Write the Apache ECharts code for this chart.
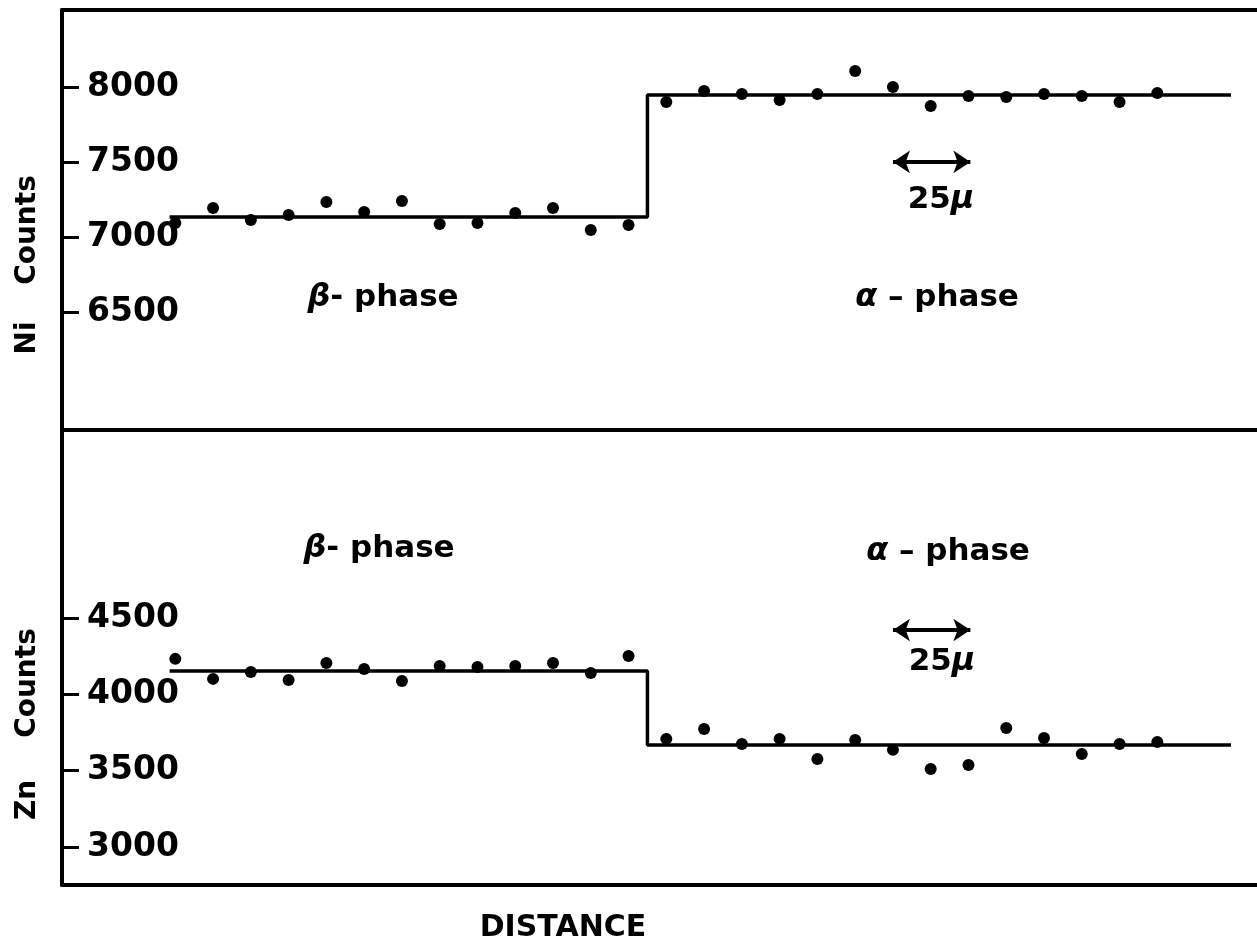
<!DOCTYPE html>
<html>
<head>
<meta charset="utf-8">
<script src="https://cdn.jsdelivr.net/npm/echarts@6/dist/echarts.min.js"></script>
<style>html,body{margin:0;padding:0;background:#fff}#c{width:1257px;height:945px}</style>
</head>
<body>
<div id="c"></div>
<script>
// ---- data (x = measurement index along the traverse) ----
const niBeta = [7093, 7193, 7113, 7147, 7233, 7167, 7240, 7087, 7093, 7160, 7193, 7047, 7080];
const niAlpha = [7900, 7973, 7953, 7913, 7953, 8107, 8000, 7873, 7940, 7933, 7953, 7940, 7900, 7960];
const znBeta = [4232, 4101, 4146, 4094, 4205, 4166, 4087, 4186, 4179, 4186, 4205, 4140, 4251];
const znAlpha = [3708, 3773, 3675, 3708, 3577, 3701, 3636, 3511, 3537, 3780, 3714, 3609, 3675, 3688];
const niLevels = [7133, 7947];
const znLevels = [4153, 3668];
const stepX = [-0.15, 12.5, 27.95];   // start, boundary, end of fitted step
const niTicks = [6500, 7000, 7500, 8000];
const znTicks = [3000, 3500, 4000, 4500];
const scaleBarX = [19.0, 21.05];       // 25 µm bar
const niBarY = 7500, znBarY = 4421;

const pts = (arr, off) => arr.map((v, i) => [i + off, v]);
const niPts = pts(niBeta, 0).concat(pts(niAlpha, niBeta.length));
const znPts = pts(znBeta, 0).concat(pts(znAlpha, znBeta.length));
const stepLine = (lv) => [[stepX[0], lv[0]], [stepX[1], lv[0]], [stepX[1], lv[1]], [stepX[2], lv[1]]];

const FONT = 'DejaVu Sans';
const chart = echarts.init(document.getElementById('c'), null, {renderer: 'canvas'});
const GW = 1195;
const XMAX = -3 + GW / 37.77;

function yAxisFor(gi, min, max, ticks) {
  return {
    gridIndex: gi, type: 'value', min: min, max: max, position: 'left',
    splitLine: {show: false},
    axisLine: {show: true, onZero: false, lineStyle: {color: '#000', width: 4}},
    axisTick: {show: true, inside: true, length: 17, customValues: ticks, lineStyle: {color: '#000', width: 3}},
    axisLabel: {show: true, inside: true, margin: 25, customValues: ticks, formatter: (v) => String(v),
      color: '#000', fontFamily: FONT, fontWeight: 'bold', fontSize: 33}
  };
}
const xAx = (gi, pos) => ({gridIndex: gi, type: 'value', min: -3, max: XMAX, position: pos,
  splitLine: {show: false}, axisTick: {show: false}, axisLabel: {show: false},
  axisLine: {show: true, onZero: false, lineStyle: {color: '#000', width: 4}}});

const dotStyle = {color: '#000', opacity: 1};
const lineStyle = {color: '#000', width: 3.5};
const txt = (s, x, y, size, extra) => ({type: 'text', x: x, y: y, rotation: extra || 0,
  style: {text: s, font: 'bold ' + size + 'px "DejaVu Sans"', fill: '#000', align: 'center', verticalAlign: 'middle',
    rich: {g: {fontFamily: FONT, fontWeight: 'bold', fontStyle: 'italic', fontSize: size + 1}}}});

chart.setOption({
  animation: false,
  backgroundColor: '#fff',
  grid: [
    {left: 62, top: 10, width: GW, height: 420},
    {left: 62, top: 430, width: GW, height: 455}
  ],
  xAxis: [xAx(0, 'top'), xAx(0, 'bottom'), xAx(1, 'bottom')],
  yAxis: [yAxisFor(0, 5713, 8513, niTicks), yAxisFor(1, 2751, 5731, znTicks)],
  series: [
    {type: 'line', xAxisIndex: 0, yAxisIndex: 0, data: stepLine(niLevels), symbol: 'none', lineStyle: lineStyle, z: 2},
    {type: 'line', xAxisIndex: 2, yAxisIndex: 1, data: stepLine(znLevels), symbol: 'none', lineStyle: lineStyle, z: 2},
    {type: 'scatter', xAxisIndex: 0, yAxisIndex: 0, data: niPts, symbolSize: 12, itemStyle: dotStyle, z: 3},
    {type: 'scatter', xAxisIndex: 2, yAxisIndex: 1, data: znPts, symbolSize: 12, itemStyle: dotStyle, z: 3},
    {type: 'lines', coordinateSystem: 'cartesian2d', xAxisIndex: 0, yAxisIndex: 0,
      symbol: ['arrow', 'arrow'], symbolSize: 17,
      lineStyle: {color: '#000', width: 4, opacity: 1},
      data: [{coords: [[scaleBarX[0], niBarY], [scaleBarX[1], niBarY]]}]},
    {type: 'lines', coordinateSystem: 'cartesian2d', xAxisIndex: 2, yAxisIndex: 1,
      symbol: ['arrow', 'arrow'], symbolSize: 17,
      lineStyle: {color: '#000', width: 4, opacity: 1},
      data: [{coords: [[scaleBarX[0], znBarY], [scaleBarX[1], znBarY]]}]}
  ],
  graphic: [
    txt('Counts', 28, 230, 28, Math.PI / 2),
    txt('Ni', 28, 338, 28, Math.PI / 2),
    txt('Counts', 28, 683, 28, Math.PI / 2),
    txt('Zn', 28, 800, 28, Math.PI / 2),
    txt('{g|β}- phase', 383, 298, 31),
    txt('{g|α} – phase', 937, 298, 31),
    txt('{g|β}- phase', 379, 549, 31),
    txt('{g|α} – phase', 948, 552, 31),
    txt('25{g|μ}', 941, 200, 31),
    txt('25{g|μ}', 942, 662, 31),
    txt('DISTANCE', 563, 928, 30)
  ]
});
</script>
</body>
</html>
